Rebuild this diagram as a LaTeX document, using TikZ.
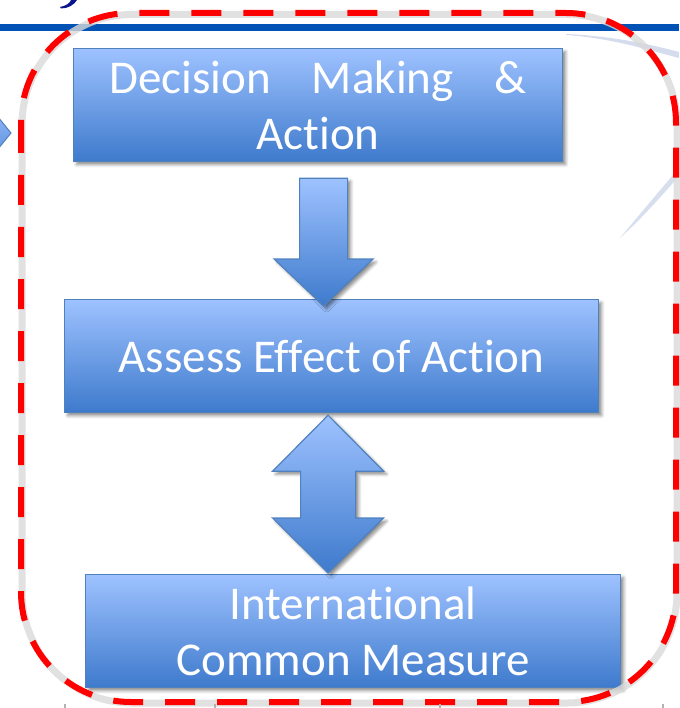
\documentclass[tikz,border=0pt]{standalone}
\usepackage{fontspec}
\setmainfont{Carlito}[Ligatures={NoCommon}]
\usetikzlibrary{calc,shadows.blur}

\definecolor{boxtop}{RGB}{158,194,255}
\definecolor{boxbot}{RGB}{62,122,204}
\definecolor{boxedge}{RGB}{79,129,189}
\definecolor{ruleblue}{RGB}{0,82,180}
\definecolor{titlenavy}{RGB}{10,20,140}
\definecolor{dashred}{RGB}{255,0,0}
\definecolor{swoosh}{RGB}{176,192,222}

\tikzset{
  softshade/.style={blur shadow={shadow xshift=3pt, shadow yshift=-3pt,
      shadow blur radius=3pt, shadow opacity=45}},
  stepbox/.style={draw=boxedge, line width=1.2pt, top color=boxtop,
      bottom color=boxbot, text=white, font=\fontsize{47}{56}\selectfont,
      inner sep=0pt, anchor=north west, minimum height=113pt, align=center,
      softshade},
  blockarrow/.style={draw=boxedge, line width=1.2pt, top color=boxtop,
      bottom color=boxbot, line join=miter, softshade},
  frameline/.style={dashred, line width=6pt, rounded corners=110pt,
      dash pattern=on 30pt off 22pt},
  frameshade/.style={gray!30, line width=7pt, rounded corners=110pt},
}

\begin{document}
\begin{tikzpicture}[x=1pt, y=-1pt]
  \useasboundingbox (0,0) rectangle (679,708);

  % title underline and the tail of the title glyph above it
  \fill[ruleblue] (0,24) rectangle (679,31.5);
  \fill[titlenavy] (60,7) .. controls (66,6) and (70,3) .. (71,0)
    -- (77,0) .. controls (74,5) and (68,8.5) .. (61,8.5) -- cycle;

  % faint background swooshes on the right
  \fill[swoosh, opacity=0.55] (566,34) .. controls (610,36) and (645,43) .. (679,52)
    -- (679,58) .. controls (645,49) and (610,38) .. (566,35) -- cycle;
  \fill[swoosh, opacity=0.5] (620,238) .. controls (640,214) and (660,190) .. (679,168)
    -- (679,176) .. controls (660,198) and (640,220) .. (620,238) -- cycle;

  % tip of an arrow entering from the left
  \draw[boxedge, line width=1pt, top color=boxtop!80!boxbot, bottom color=boxtop!40!boxbot]
    (-2,117) -- (11,133) -- (-2,149) -- cycle;

  % the three process boxes
  \node[stepbox, minimum width=489pt] (decide) at (73,48)
    {\makebox[417pt]{Decision\hfill Making\hfill\&}\\Action};
  \node[stepbox, minimum width=534pt] (assess) at (64,299)
    {Assess Effect of Action};
  \node[stepbox, minimum width=535pt] (measure) at (85,574)
    {International\\Common Measure};

  % single block arrow: decide -> assess
  \coordinate (a1top) at ($(decide.south)+(5.5,16)$);
  \coordinate (a1tip) at ($(assess.north)+(-8,7)$);
  \path[blockarrow] let \p1=(a1top), \p2=(a1tip) in
    (\x1-24pt,\y1) -- (\x1+24pt,\y1) -- (\x1+24pt,\y2+47pt)
    -- (\x1+49.5pt,\y2+47pt) -- (\x1,\y2) -- (\x1-49.5pt,\y2+47pt)
    -- (\x1-24pt,\y2+47pt) -- cycle;

  % double block arrow: assess <-> measure
  \coordinate (a2top) at ($(assess.south)+(-3.5,2)$);
  \coordinate (a2bot) at ($(measure.north)+(-25,-1)$);
  \path[blockarrow] let \p1=(a2top), \p2=(a2bot) in
    (\x1,\y1) -- (\x1+55.5pt,\y1-56pt) -- (\x1+27.5pt,\y1-56pt)
    -- (\x1+27.5pt,\y2+55pt) -- (\x1+55.5pt,\y2+55pt) -- (\x1,\y2)
    -- (\x1-55.5pt,\y2+55pt) -- (\x1-27.5pt,\y2+55pt)
    -- (\x1-27.5pt,\y1-56pt) -- (\x1-55.5pt,\y1-56pt) -- cycle;

  % red dashed frame with its soft grey shadow
  \draw[frameshade, opacity=0.8] (22,14.5) rectangle (677,703);
  \draw[frameline] (21,13) rectangle (676,702);

  % small marks along the lower edge
  \foreach \tx in {65,215,440,663}
    \draw[gray!60, line width=1.2pt] (\tx,704) -- (\tx,708);
\end{tikzpicture}
\end{document}
